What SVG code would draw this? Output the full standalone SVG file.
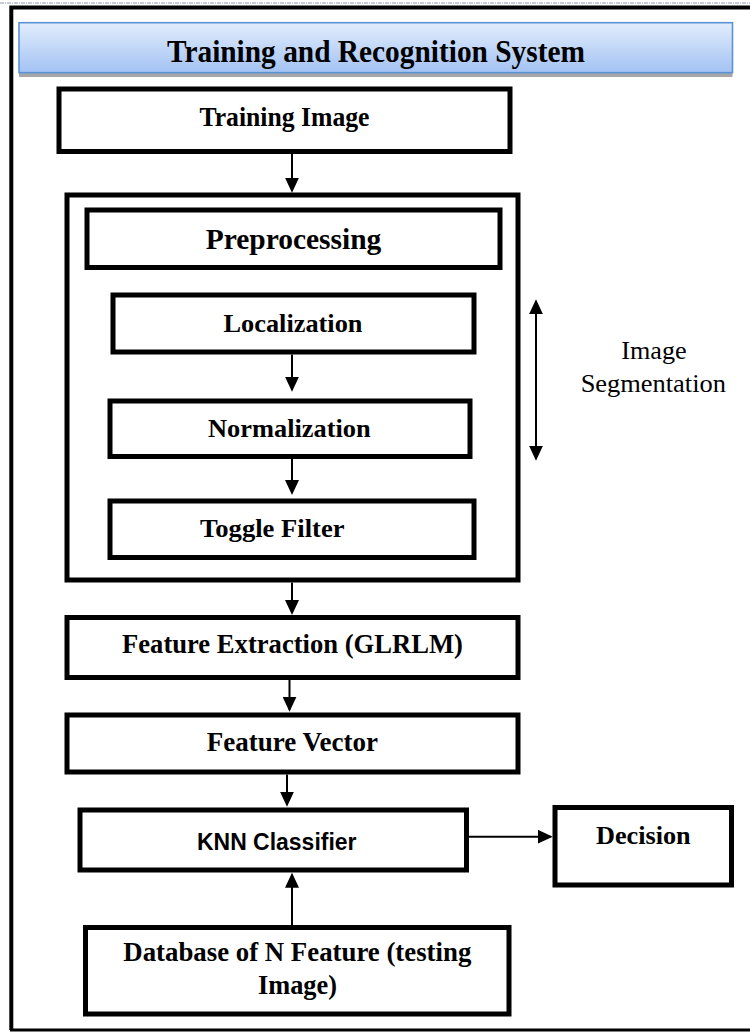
<svg xmlns="http://www.w3.org/2000/svg" width="750" height="1035" viewBox="0 0 750 1035">
<defs>
  <linearGradient id="titleGrad" x1="0" y1="0" x2="0" y2="1">
    <stop offset="0" stop-color="#e2edfd"/>
    <stop offset="1" stop-color="#a3c2f3"/>
  </linearGradient>
  <marker id="arrow" viewBox="0 0 15 14" refX="13" refY="7" markerWidth="15" markerHeight="14" markerUnits="userSpaceOnUse" orient="auto-start-reverse">
    <path d="M0,0 L15,7 L0,14 z" fill="#000"/>
  </marker>
  <style>
    .box { fill: #fff; stroke: #000; stroke-width: 5; }
    .lbl { font-family: "Times New Roman", "Liberation Serif", Tinos, serif; font-weight: bold; font-size: 26px; fill: #000; text-anchor: middle; }
    .plain { font-family: "Times New Roman", "Liberation Serif", Tinos, serif; font-size: 26px; fill: #000; text-anchor: middle; }
    .sans { font-family: "Liberation Sans", Arial, sans-serif; font-weight: bold; font-size: 22px; fill: #000; }
    .conn { stroke: #000; stroke-width: 2; fill: none; marker-end: url(#arrow); }
  </style>
</defs>
<rect width="750" height="1035" fill="#fff"/>
<g id="frame">
  <line x1="0" y1="3" x2="750" y2="3" stroke="#8f9bb0" stroke-width="1" stroke-dasharray="4,1,1,1"/>
  <path d="M11.3,1030 L11.3,7.5 L752,7.5" fill="none" stroke="#000" stroke-width="4"/>
  <line x1="10" y1="1030" x2="752" y2="1030" stroke="#000" stroke-width="3"/>
</g>
<g id="title">
  <rect x="19" y="27.5" width="713.5" height="49.5" fill="#a6a6a6"/>
  <rect x="19" y="22.7" width="713.5" height="50" fill="url(#titleGrad)" stroke="#5a93d4" stroke-width="1.6"/>
  <text class="lbl" x="376" y="62" style="font-size:31px" textLength="418" lengthAdjust="spacingAndGlyphs">Training and Recognition System</text>
</g>
<g id="training-image">
  <rect class="box" x="59" y="89" width="451" height="62.5"/>
  <text class="lbl" x="284.5" y="126" style="font-size:27px" textLength="170" lengthAdjust="spacingAndGlyphs">Training Image</text>
</g>
<g id="segmentation-container">
  <rect class="box" x="67" y="195" width="451" height="385"/>
</g>
<g id="preprocessing">
  <rect class="box" x="87" y="210" width="413" height="57.5"/>
  <text class="lbl" x="293.5" y="249.3" style="font-size:29px" textLength="175.6" lengthAdjust="spacingAndGlyphs">Preprocessing</text>
</g>
<g id="localization">
  <rect class="box" x="113" y="295" width="361" height="57"/>
  <text class="lbl" x="293" y="331.7" textLength="139" lengthAdjust="spacingAndGlyphs">Localization</text>
</g>
<g id="normalization">
  <rect class="box" x="110" y="401" width="360" height="55.5"/>
  <text class="lbl" x="289.4" y="436.7" textLength="162.7" lengthAdjust="spacingAndGlyphs">Normalization</text>
</g>
<g id="toggle-filter">
  <rect class="box" x="110" y="501" width="364" height="56.5"/>
  <text class="lbl" x="272.25" y="536.7" textLength="144.5" lengthAdjust="spacingAndGlyphs">Toggle Filter</text>
</g>
<g id="image-segmentation">
  <text class="plain" x="654" y="359.3" textLength="65.3" lengthAdjust="spacingAndGlyphs">Image</text>
  <text class="plain" x="653.3" y="391.7" textLength="145.3" lengthAdjust="spacingAndGlyphs">Segmentation</text>
</g>
<g id="feature-extraction">
  <rect class="box" x="67" y="617.5" width="451" height="60"/>
  <text class="lbl" x="292.5" y="653.3" style="font-size:26.5px" textLength="341" lengthAdjust="spacingAndGlyphs">Feature Extraction (GLRLM)</text>
</g>
<g id="feature-vector">
  <rect class="box" x="67" y="715" width="451" height="57"/>
  <text class="lbl" x="292.3" y="750.7" style="font-size:26.5px" textLength="171.3" lengthAdjust="spacingAndGlyphs">Feature Vector</text>
</g>
<g id="knn-classifier">
  <rect class="box" x="80" y="810" width="386.5" height="60"/>
  <text class="sans" x="197" y="850" style="font-size:23px" textLength="159.5" lengthAdjust="spacingAndGlyphs">KNN Classifier</text>
</g>
<g id="decision">
  <rect class="box" x="555" y="807.5" width="176.5" height="77.5"/>
  <text class="lbl" x="643.3" y="844.3" textLength="94.7" lengthAdjust="spacingAndGlyphs">Decision</text>
</g>
<g id="database">
  <rect class="box" x="85.5" y="927.5" width="423.5" height="86.5"/>
  <text class="lbl" x="297.3" y="960.5" style="font-size:27px" textLength="348" lengthAdjust="spacingAndGlyphs">Database of N Feature (testing</text>
  <text class="lbl" x="297.5" y="994" style="font-size:27px" textLength="79" lengthAdjust="spacingAndGlyphs">Image)</text>
</g>
<g id="connectors">
  <line class="conn" x1="292" y1="154" x2="292" y2="190.7"/>
  <line class="conn" x1="292" y1="354.5" x2="292" y2="389.7"/>
  <line class="conn" x1="292" y1="459" x2="292" y2="493"/>
  <line class="conn" x1="292" y1="582.5" x2="292" y2="613"/>
  <line class="conn" x1="289.5" y1="680" x2="289.5" y2="709.7"/>
  <line class="conn" x1="287" y1="774.5" x2="287" y2="804.7"/>
  <line class="conn" x1="292" y1="925" x2="292" y2="874.7"/>
  <line class="conn" x1="469" y1="836.7" x2="550.7" y2="836.7"/>
  <line class="conn" x1="536" y1="301.3" x2="536" y2="458.7" style="marker-start:url(#arrow)"/>
</g>
</svg>
